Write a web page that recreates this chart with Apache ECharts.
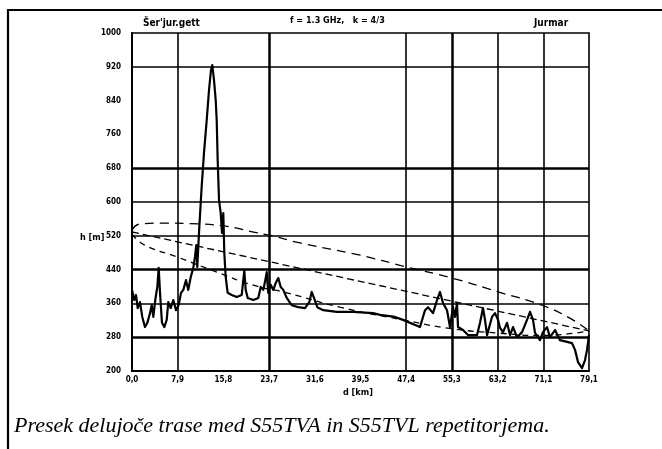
<!DOCTYPE html>
<html><head><meta charset="utf-8">
<script src="https://cdn.jsdelivr.net/npm/echarts@6/dist/echarts.min.js"></script>
<style>html,body{margin:0;padding:0;background:#fff}#c{width:662px;height:449px}</style>
</head><body><div id="c"></div>
<script>
// ---- data ----
const xTickLabels = ['0,0','7,9','15,8','23,7','31,6','39,5','47,4','55,3','63,2','71,1','79,1'];
const xGridMajor = [23.73, 55.37];
const xGridMinor = [7.91, 47.46, 63.28, 71.19];
const yGridMajor = [680, 440, 280];
const yGridMinor = [920, 600, 520, 360];

const terrainDist = [0,0.40,0.69,0.99,1.38,1.78,2.25,2.65,3.12,3.41,3.69,4.03,4.38,4.62,4.85,5.19,5.59,6.01,6.28,6.70,7.15,7.62,8.08,8.48,8.88,9.35,9.74,10.16,10.61,10.90,11.13,11.30,11.65,12.06,12.46,12.93,13.33,13.67,13.90,14.19,14.49,14.66,14.83,15.06,15.35,15.58,15.80,15.98,16.22,16.56,17.26,18.12,18.99,19.26,19.44,19.68,20.03,21.00,21.86,22.28,22.73,23.07,23.32,23.59,24.01,24.46,24.87,25.32,25.74,26.19,26.78,27.64,28.78,29.94,30.69,31.10,31.50,32.07,33.11,35.43,38.30,41.71,42.93,45.52,46.91,49.85,50.72,51.24,52.10,52.80,53.31,53.83,54.52,55.04,55.56,55.91,56.25,56.43,57.29,58.16,59.72,60.24,60.75,61.10,61.45,62.31,62.83,63.35,63.70,64.22,64.91,65.43,65.95,66.64,67.51,68.37,68.89,69.41,69.76,70.62,71.14,71.83,72.35,73.22,74.08,75.30,76.16,76.68,77.20,77.89,78.41,78.76,79.1];
const terrainHeight = [392,368,380,349,363,328,304,314,337,356,328,368,399,444,385,314,304,321,363,349,368,344,356,385,392,415,392,422,444,470,498,446,541,636,716,794,865,912,924,889,841,794,699,605,574,527,574,479,422,385,380,375,380,415,437,392,373,368,373,399,392,415,434,385,404,392,408,420,399,392,373,356,351,349,363,387,373,351,344,340,340,337,333,328,321,304,344,351,337,368,387,361,344,304,351,328,361,304,297,285,285,314,349,321,285,328,337,321,302,292,314,285,304,280,292,321,340,321,290,273,292,304,280,297,273,269,266,250,221,207,226,250,285];

const upperDist = [0,1.4,4.8,11.8,23.5,29.1,39.5,47.6,55.4,63.2,71.1,75.8,79.1];
const upperHeight = [534,548,550,548,522,503,474,446,420,388,355,325,295];
const losDist = [0,79.1];
const losHeight = [529,295];
const lowerDist = [0,2.2,7.8,14.7,21.0,26.8,36.0,46.9,55.4,63.2,71.1,79.1];
const lowerHeight = [524,498,470,434,403,385,351,321,300,290,284,295];

const titleLeft = "Šer'jur.gett";
const titleCenter = "f = 1.3 GHz,   k = 4/3";
const titleRight = "Jurmar";
const yName = "h [m]";
const xName = "d [km]";
const caption = "Presek delujoče trase med S55TVA in S55TVL repetitorjema.";

// ---- chart ----
const zip = (a, b) => a.map((v, i) => [v, b[i]]);
const axFont = "'Liberation Sans Narrow','DejaVu Sans Condensed',sans-serif";
const chart = echarts.init(document.getElementById('c'), null, {renderer: 'canvas'});

const vLines = xGridMajor.map(v => ({xAxis: v, lineStyle: {width: 2.5}}))
  .concat(xGridMinor.map(v => ({xAxis: v, lineStyle: {width: 1.6}})));
const hLines = yGridMajor.map(v => ({yAxis: v, lineStyle: {width: 2.5}}))
  .concat(yGridMinor.map(v => ({yAxis: v, lineStyle: {width: 1.5}})));

chart.setOption({
  animation: false,
  backgroundColor: '#fff',
  grid: {left: 132, top: 33, right: 73, bottom: 78, show: true, borderColor: '#000', borderWidth: 1.6, backgroundColor: 'transparent'},
  xAxis: {
    type: 'value', min: 0, max: 79.1, interval: 7.91,
    axisLine: {show: true, lineStyle: {color: '#000', width: 2}},
    axisTick: {show: false}, splitLine: {show: false},
    axisLabel: {
      color: '#000', fontSize: 8, fontWeight: 'bold', fontFamily: axFont, margin: 5,
      showMaxLabel: true,
      formatter: v => xTickLabels[Math.round(v / 7.91)] || ''
    }
  },
  yAxis: {
    type: 'value', min: 200, max: 1000, interval: 80,
    axisLine: {show: true, lineStyle: {color: '#000', width: 2}},
    axisTick: {show: false}, splitLine: {show: false},
    axisLabel: {color: '#000', fontSize: 8, fontWeight: 'bold', fontFamily: axFont, margin: 11,
      formatter: v => String(v)}
  },
  series: [
    {
      type: 'line', data: [], silent: true,
      markLine: {silent: true, symbol: 'none', label: {show: false},
        lineStyle: {color: '#000', type: 'solid'}, data: vLines.concat(hLines)}
    },
    {type: 'line', data: zip(upperDist, upperHeight), smooth: true, symbol: 'none',
      lineStyle: {color: '#000', width: 1.3, type: [9, 6]}},
    {type: 'line', data: zip(losDist, losHeight), symbol: 'none',
      lineStyle: {color: '#000', width: 1.3, type: [7, 4]}},
    {type: 'line', data: zip(lowerDist, lowerHeight), smooth: true, symbol: 'none',
      lineStyle: {color: '#000', width: 1.3, type: [6, 5]}},
    {type: 'line', data: zip(terrainDist, terrainHeight), symbol: 'none',
      lineStyle: {color: '#000', width: 2.2, join: 'round'}}
  ],
  graphic: [
    {type: 'line', shape: {x1: 7, y1: 10, x2: 662, y2: 10}, style: {stroke: '#000', lineWidth: 2.2}},
    {type: 'line', shape: {x1: 8, y1: 9, x2: 8, y2: 449}, style: {stroke: '#000', lineWidth: 2.2}},
    {type: 'text', left: 143, top: 18, style: {text: titleLeft, font: "bold 10px 'Liberation Sans Narrow','DejaVu Sans Condensed',sans-serif", fill: '#000'}},
    {type: 'text', left: 290, top: 16, style: {text: titleCenter, font: "bold 9px 'Liberation Sans Narrow','DejaVu Sans Condensed',sans-serif", fill: '#000'}},
    {type: 'text', left: 534, top: 18, style: {text: titleRight, font: "bold 10px 'Liberation Sans Narrow','DejaVu Sans Condensed',sans-serif", fill: '#000'}},
    {type: 'text', left: 80, top: 233, style: {text: yName, font: "bold 9px 'Liberation Sans Narrow','DejaVu Sans Condensed',sans-serif", fill: '#000'}},
    {type: 'text', left: 343, top: 388, style: {text: xName, font: "bold 9px 'Liberation Sans Narrow','DejaVu Sans Condensed',sans-serif", fill: '#000'}},
    {type: 'text', left: 14, top: 415, style: {text: caption, font: "italic 22px 'Liberation Serif','DejaVu Serif',serif", fill: '#000'}}
  ]
});
</script>
</body></html>
